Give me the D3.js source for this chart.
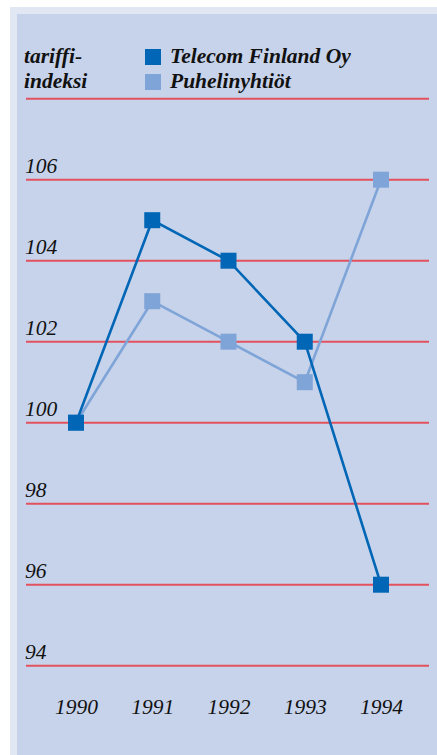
<!DOCTYPE html>
<html><head><meta charset="utf-8">
<script src="https://cdn.jsdelivr.net/npm/d3@7"></script>
<style>html,body{margin:0;padding:0;background:#fff;}</style>
</head><body>
<svg id="c" width="437" height="755"></svg>
<script>
const years = ["1990","1991","1992","1993","1994"];
const telecom = [100, 105, 104, 102, 96];
const puhelin = [100, 103, 102, 101, 106];
const yTicks = [94, 96, 98, 100, 102, 104, 106, 108];
const seriesNames = ["Telecom Finland Oy", "Puhelinyhtiöt"];
const colors = ["#0066b5", "#7fa4d8"];

const svg = d3.select("#c");
svg.append("rect").attr("x",10).attr("y",7).attr("width",427).attr("height",748).attr("fill","#e1e7f3");
svg.append("rect").attr("x",17).attr("y",14).attr("width",420).attr("height",741).attr("fill","#c7d3ea");

const x = d3.scalePoint().domain(years).range([76, 381]);
const y = d3.scaleLinear().domain([94, 108]).range([665.7, 98.7]);

const serif = "Liberation Serif, Times New Roman, serif";
const fs = 21.5;

// gridlines
svg.selectAll("line.grid").data(yTicks).join("line")
  .attr("x1",26).attr("x2",429)
  .attr("y1",d=>y(d)).attr("y2",d=>y(d))
  .attr("stroke","#e2525e").attr("stroke-width",2);

// y labels (108 not labelled)
svg.selectAll("text.yl").data(yTicks.filter(d=>d<108)).join("text")
  .attr("x",25).attr("y",d=>y(d)-6.5)
  .style("font-family",serif).style("font-style","italic").style("font-size",fs+"px")
  .attr("fill","#111").text(d=>d);

// x labels
const xAxis = d3.axisBottom(x).tickSize(0);
const gx = svg.append("g").attr("transform","translate(0,714)").call(xAxis);
gx.select(".domain").remove();
gx.selectAll("text").attr("y",0).attr("dy",0)
  .style("font-family",serif).style("font-style","italic").style("font-size",fs+"px").attr("fill","#111");

// lines (light first, then dark)
const data = [telecom, puhelin];
const line = d3.line().x((d,i)=>x(years[i])).y(d=>y(d));
[1,0].forEach(k=>{
  svg.append("path").datum(data[k]).attr("d",line).attr("fill","none")
    .attr("stroke",colors[k]).attr("stroke-width",2.6);
  svg.selectAll("rect.m"+k).data(data[k]).join("rect")
    .attr("x",(d,i)=>x(years[i])-8).attr("y",d=>y(d)-8)
    .attr("width",16).attr("height",16).attr("fill",colors[k]);
});

// title
const t = svg.append("text").style("font-family",serif).style("font-style","italic").style("font-weight","bold").style("font-size",fs+"px").attr("fill","#111");
t.append("tspan").attr("x",24).attr("y",63).text("tariffi-");
t.append("tspan").attr("x",24).attr("y",88).text("indeksi");

// legend
seriesNames.forEach((n,i)=>{
  svg.append("rect").attr("x",145).attr("y",49+i*25).attr("width",16).attr("height",16).attr("fill",colors[i]);
  svg.append("text").attr("x",170).attr("y",63+i*25).style("font-family",serif).style("font-style","italic").style("font-weight","bold").style("font-size",fs+"px").attr("fill","#111").text(n);
});
</script>
</body></html>
